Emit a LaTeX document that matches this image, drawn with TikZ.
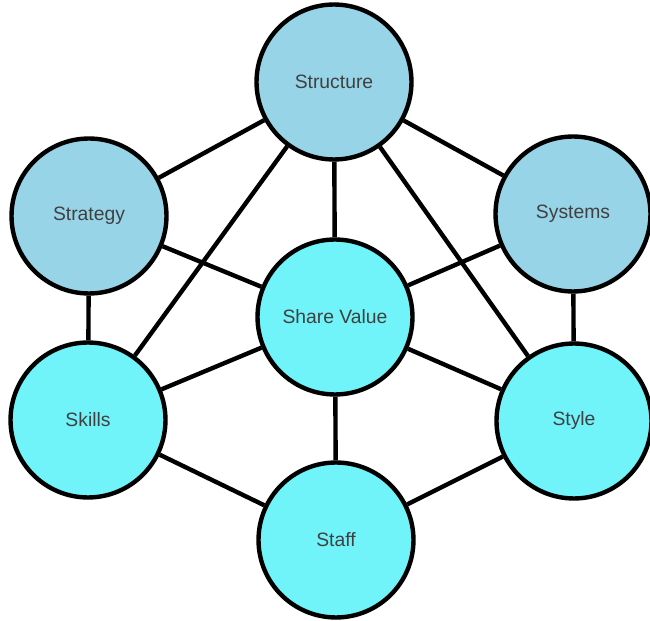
\documentclass[tikz,border=0pt]{standalone}
\usepackage{fontspec}
\setmainfont{Liberation Sans}
\begin{document}
\begin{tikzpicture}[x=0.02cm, y=-0.02cm,
		elem/.style={circle, draw=black, line width=2.5pt, minimum size=3.1cm, inner sep=0pt,
			font=\fontsize{11}{13}\selectfont, text=black!75},
		hard/.style={elem, fill=hardblue},
		soft/.style={elem, fill=softcyan},
		link/.style={line width=2.5pt}]
		\definecolor{hardblue}{RGB}{152,212,232}
		\definecolor{softcyan}{RGB}{112,244,250}
		\useasboundingbox (0, 0) rectangle (650, 621);
		\node[hard] (structure) at (334, 82) {Structure};
		\node[hard] (strategy) at (89, 216) {Strategy};
		\node[hard] (systems) at (573, 214) {Systems};
		\node[soft] (shared) at (335, 317) {Share Value};
		\node[soft] (skills) at (88, 420) {Skills};
		\node[soft] (style) at (574, 421) {Style};
		\node[soft] (staff) at (336, 540) {Staff};
		\draw[link] (structure) -- (strategy)
			(structure) -- (systems)
			(structure) -- (shared)
			(structure) -- (skills)
			(structure) -- (style)
			(strategy) -- (shared)
			(systems) -- (shared)
			(strategy) -- (skills)
			(systems) -- (style)
			(shared) -- (skills)
			(shared) -- (style)
			(shared) -- (staff)
			(skills) -- (staff)
			(style) -- (staff);
		\end{tikzpicture}
\end{document}
